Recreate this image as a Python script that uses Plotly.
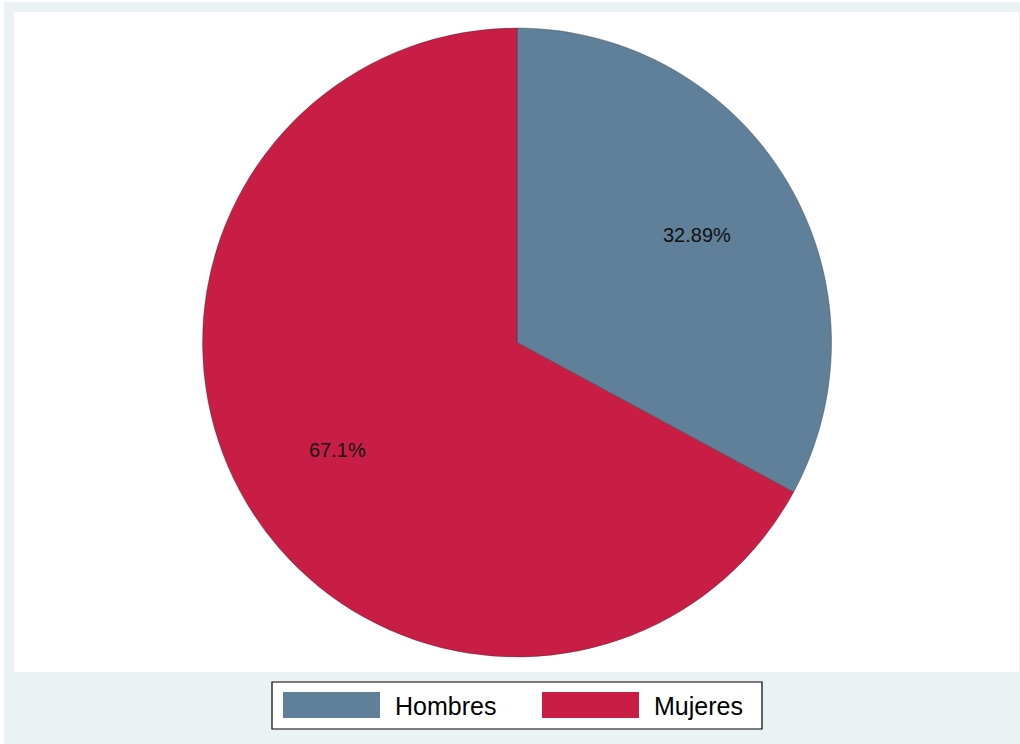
import plotly.graph_objects as go
import math

# Distribution by sex
categories = ["Hombres", "Mujeres"]
percentages = [32.89, 67.1]
slice_colors = ["#607F99", "#C81E46"]

W, H = 1020, 744
FONT = "Liberation Sans, Arial, sans-serif"


def px(x):
    return x / W


def py(y):
    return 1 - y / H


# Pie geometry in pixels
cx, cy, radius = 517, 342.5, 314.5
label_r = 0.665 * radius

fig = go.Figure()
fig.add_trace(go.Pie(
    labels=categories,
    values=percentages,
    sort=False,
    direction="clockwise",
    rotation=0,
    marker=dict(colors=slice_colors, line=dict(color="rgba(40,40,40,0.55)", width=0.6)),
    textinfo="none",
    hoverinfo="label+percent",
    showlegend=False,
    domain=dict(x=[px(cx - radius), px(cx + radius)], y=[py(cy + radius), py(cy - radius)]),
))

shapes = [
    # outer frame and white plot region
    dict(type="rect", xref="paper", yref="paper", x0=px(4), x1=px(1020), y0=py(744), y1=py(2),
         fillcolor="#EAF2F3", line=dict(width=0), layer="below"),
    dict(type="rect", xref="paper", yref="paper", x0=px(14), x1=px(1019), y0=py(672), y1=py(12),
         fillcolor="white", line=dict(width=0), layer="below"),
    # legend box
    dict(type="rect", xref="paper", yref="paper", x0=px(272), x1=px(762), y0=py(729), y1=py(682),
         fillcolor="white", line=dict(color="black", width=1.2)),
]

annotations = []

# Slice labels placed at each slice's mid-angle
total = sum(percentages)
cum = 0.0
for v in percentages:
    mid = (cum + v / 2) / total * 2 * math.pi
    cum += v
    lx = cx + label_r * math.sin(mid)
    ly = cy - label_r * math.cos(mid)
    annotations.append(dict(
        x=px(lx), y=py(ly), xref="paper", yref="paper", text=f"{v:g}%",
        showarrow=False, font=dict(family=FONT, size=20, color="#111111"),
        xanchor="center", yanchor="middle",
    ))

# Legend entries
swatch_x = [283, 542]
for name, color, sx in zip(categories, slice_colors, swatch_x):
    shapes.append(dict(type="rect", xref="paper", yref="paper", x0=px(sx), x1=px(sx + 97),
                       y0=py(718), y1=py(692), fillcolor=color, line=dict(width=0)))
    annotations.append(dict(
        x=px(sx + 110), y=py(705.5), xref="paper", yref="paper", text=name,
        showarrow=False, font=dict(family=FONT, size=25, color="black"),
        xanchor="left", yanchor="middle",
    ))

fig.update_layout(
    width=W, height=H,
    margin=dict(l=0, r=0, t=0, b=0),
    paper_bgcolor="white",
    plot_bgcolor="white",
    shapes=shapes,
    annotations=annotations,
)

fig.write_html("out.html")
